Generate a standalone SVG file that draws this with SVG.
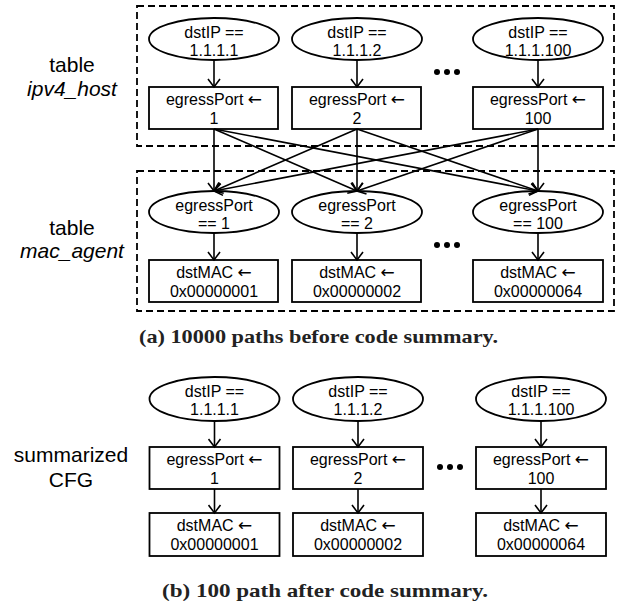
<svg xmlns="http://www.w3.org/2000/svg" width="621" height="607" viewBox="0 0 621 607">
<style>
.n{fill:#fff;stroke:#000;stroke-width:1.8}
.t{font-family:"Liberation Sans",Arial,sans-serif;font-size:16px;fill:#000;text-anchor:middle}
.ar{font-family:"DejaVu Sans",sans-serif;font-size:17px}
.l{font-family:"Liberation Sans",Arial,sans-serif;font-size:21px;fill:#000;text-anchor:middle}
.i{font-style:italic}
.c{font-family:"Liberation Serif","Times New Roman",serif;font-size:19px;font-weight:bold;fill:#222}
.e{fill:none;stroke:#000;stroke-width:1.6;marker-end:url(#a)}
.d{fill:none;stroke:#000;stroke-width:1.8;stroke-dasharray:7 4}
</style>
<defs>
<marker id="a" markerUnits="userSpaceOnUse" markerWidth="14" markerHeight="14" refX="0" refY="0" viewBox="-10 -7 12 14" orient="auto">
<path d="M-8,-6 L0,0 L-8,6" fill="none" stroke="#000" stroke-width="1.6"/>
</marker>
</defs>
<rect width="621" height="607" fill="#fff"/>

<g id="label-ipv4"><text class="l" x="72" y="72">table</text><text class="l i" x="72" y="96">ipv4_host</text></g>
<g id="label-mac"><text class="l" x="72" y="235">table</text><text class="l i" x="72" y="258">mac_agent</text></g>
<g id="label-cfg"><text class="l" x="71" y="462">summarized</text><text class="l" x="71" y="487">CFG</text></g>

<g id="box-ipv4"><rect class="d" x="137" y="6" width="477" height="140"/></g>
<g id="box-mac"><rect class="d" x="137" y="171" width="477" height="140"/></g>

<g id="a-ip1"><ellipse class="n" cx="214" cy="39" rx="65" ry="21"/><text class="t" x="214" y="38">dstIP ==</text><text class="t" x="214" y="56">1.1.1.1</text></g>
<g id="a-ip2"><ellipse class="n" cx="357" cy="39" rx="65" ry="21"/><text class="t" x="357" y="38">dstIP ==</text><text class="t" x="357" y="56">1.1.1.2</text></g>
<g id="a-ip100"><ellipse class="n" cx="538" cy="39" rx="65" ry="21"/><text class="t" x="538" y="38">dstIP ==</text><text class="t" x="538" y="56">1.1.1.100</text></g>

<g id="a-ep1"><rect class="n" x="149" y="87" width="129" height="42"/><text class="t" x="214" y="105">egressPort <tspan class="ar">←</tspan></text><text class="t" x="214" y="124">1</text></g>
<g id="a-ep2"><rect class="n" x="292" y="87" width="129" height="42"/><text class="t" x="357" y="105">egressPort <tspan class="ar">←</tspan></text><text class="t" x="357" y="124">2</text></g>
<g id="a-ep100"><rect class="n" x="473" y="87" width="130" height="42"/><text class="t" x="538" y="105">egressPort <tspan class="ar">←</tspan></text><text class="t" x="538" y="124">100</text></g>

<g id="a-eq1"><ellipse class="n" cx="214" cy="212" rx="65" ry="21"/><text class="t" x="214" y="211">egressPort</text><text class="t" x="214" y="229">== 1</text></g>
<g id="a-eq2"><ellipse class="n" cx="357" cy="212" rx="65" ry="21"/><text class="t" x="357" y="211">egressPort</text><text class="t" x="357" y="229">== 2</text></g>
<g id="a-eq100"><ellipse class="n" cx="538" cy="212" rx="65" ry="21"/><text class="t" x="538" y="211">egressPort</text><text class="t" x="538" y="229">== 100</text></g>

<g id="a-mac1"><rect class="n" x="149" y="260" width="129" height="42"/><text class="t" x="214" y="278">dstMAC <tspan class="ar">←</tspan></text><text class="t" x="214" y="297">0x00000001</text></g>
<g id="a-mac2"><rect class="n" x="292" y="260" width="129" height="42"/><text class="t" x="357" y="278">dstMAC <tspan class="ar">←</tspan></text><text class="t" x="357" y="297">0x00000002</text></g>
<g id="a-mac100"><rect class="n" x="473" y="260" width="130" height="42"/><text class="t" x="538" y="278">dstMAC <tspan class="ar">←</tspan></text><text class="t" x="538" y="297">0x00000064</text></g>

<g id="dots-a1" fill="#000"><circle cx="437" cy="72" r="3"/><circle cx="447" cy="72" r="3"/><circle cx="457" cy="72" r="3"/></g>
<g id="dots-a2" fill="#000"><circle cx="437" cy="245" r="3"/><circle cx="447" cy="245" r="3"/><circle cx="457" cy="245" r="3"/></g>
<g id="dots-b" fill="#000"><circle cx="440" cy="467" r="3"/><circle cx="450" cy="467" r="3"/><circle cx="460" cy="467" r="3"/></g>

<g id="b-ip1"><ellipse class="n" cx="214.5" cy="399" rx="65" ry="22"/><text class="t" x="214.5" y="397">dstIP ==</text><text class="t" x="214.5" y="415">1.1.1.1</text></g>
<g id="b-ip2"><ellipse class="n" cx="358" cy="399" rx="65" ry="22"/><text class="t" x="358" y="397">dstIP ==</text><text class="t" x="358" y="415">1.1.1.2</text></g>
<g id="b-ip100"><ellipse class="n" cx="541" cy="399" rx="65" ry="22"/><text class="t" x="541" y="397">dstIP ==</text><text class="t" x="541" y="415">1.1.1.100</text></g>

<g id="b-ep1"><rect class="n" x="149.5" y="447" width="130" height="42"/><text class="t" x="214.5" y="465">egressPort <tspan class="ar">←</tspan></text><text class="t" x="214.5" y="484">1</text></g>
<g id="b-ep2"><rect class="n" x="293" y="447" width="130" height="42"/><text class="t" x="358" y="465">egressPort <tspan class="ar">←</tspan></text><text class="t" x="358" y="484">2</text></g>
<g id="b-ep100"><rect class="n" x="476" y="447" width="130" height="42"/><text class="t" x="541" y="465">egressPort <tspan class="ar">←</tspan></text><text class="t" x="541" y="484">100</text></g>

<g id="b-mac1"><rect class="n" x="149.5" y="513" width="130" height="43"/><text class="t" x="214.5" y="531">dstMAC <tspan class="ar">←</tspan></text><text class="t" x="214.5" y="550">0x00000001</text></g>
<g id="b-mac2"><rect class="n" x="293" y="513" width="130" height="43"/><text class="t" x="358" y="531">dstMAC <tspan class="ar">←</tspan></text><text class="t" x="358" y="550">0x00000002</text></g>
<g id="b-mac100"><rect class="n" x="476" y="513" width="130" height="43"/><text class="t" x="541" y="531">dstMAC <tspan class="ar">←</tspan></text><text class="t" x="541" y="550">0x00000064</text></g>

<g id="connectors">
<line class="e" x1="214" y1="60" x2="214" y2="87"/>
<line class="e" x1="357" y1="60" x2="357" y2="87"/>
<line class="e" x1="538" y1="60" x2="538" y2="87"/>
<line class="e" x1="214" y1="129" x2="214" y2="191"/>
<line class="e" x1="214" y1="129" x2="357" y2="191"/>
<line class="e" x1="214" y1="129" x2="538" y2="191"/>
<line class="e" x1="357" y1="129" x2="214" y2="191"/>
<line class="e" x1="357" y1="129" x2="357" y2="191"/>
<line class="e" x1="357" y1="129" x2="538" y2="191"/>
<line class="e" x1="538" y1="129" x2="214" y2="191"/>
<line class="e" x1="538" y1="129" x2="357" y2="191"/>
<line class="e" x1="538" y1="129" x2="538" y2="191"/>
<line class="e" x1="214" y1="233" x2="214" y2="260"/>
<line class="e" x1="357" y1="233" x2="357" y2="260"/>
<line class="e" x1="538" y1="233" x2="538" y2="260"/>
<line class="e" x1="214.5" y1="421" x2="214.5" y2="447"/>
<line class="e" x1="358" y1="421" x2="358" y2="447"/>
<line class="e" x1="541" y1="421" x2="541" y2="447"/>
<line class="e" x1="214.5" y1="489" x2="214.5" y2="513"/>
<line class="e" x1="358" y1="489" x2="358" y2="513"/>
<line class="e" x1="541" y1="489" x2="541" y2="513"/>
</g>

<text class="c" x="139" y="343" textLength="359" lengthAdjust="spacingAndGlyphs">(a) 10000 paths before code summary.</text>
<text class="c" x="162" y="597" textLength="326" lengthAdjust="spacingAndGlyphs">(b) 100 path after code summary.</text>
</svg>
